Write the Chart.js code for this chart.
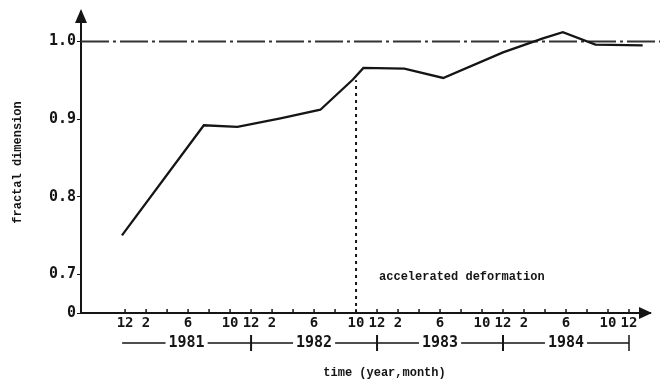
<!DOCTYPE html>
<html>
<head>
<meta charset="utf-8">
<script src="https://cdn.jsdelivr.net/npm/chart.js@4.4.0/dist/chart.umd.min.js"></script>
<style>
  html, body { margin: 0; padding: 0; background: #fff; }
  #wrap { width: 660px; height: 383px; position: relative; }
</style>
</head>
<body>
<div id="wrap"><canvas id="fractalChart"></canvas></div>
<script>
// Time is counted in months from Dec 1980 (0) to Dec 1984 (48)
const months     = [-0.3, 7.5, 10.7, 14.8, 18.6, 21.7, 22.7, 26.6, 30.3, 36.0, 39.8, 41.7, 44.8, 49.3];
const fractalDim = [0.750, 0.892, 0.890, 0.901, 0.912, 0.951, 0.966, 0.965, 0.953, 0.986, 1.004, 1.012, 0.996, 0.995];

// reference level and the start of accelerated deformation (Oct 1982)
const refLevel = 1.0;
const eventMonth = 22;
const eventTop = 0.95;

// axis ticks (the axis is broken: the bottom tick stands for 0)
const yTickValues = [0.65, 0.7, 0.8, 0.9, 1.0];
const yTickLabels = ['0', '0.7', '0.8', '0.9', '1.0'];
const xTickMonths = [0, 2, 4, 6, 8, 10, 12, 14, 16, 18, 20, 22, 24, 26, 28, 30, 32, 34, 36, 38, 40, 42, 44, 46, 48];
const xTickLabels = ['12', '2', '', '6', '', '10', '12', '2', '', '6', '', '10', '12', '2', '', '6', '', '10', '12', '2', '', '6', '', '10', '12'];

// year row under the month ticks
const years      = ['1981', '1982', '1983', '1984'];
const yearStarts = [0, 12, 24, 36];
const yearEnds   = [12, 24, 36, 48];

const xMin = -4.2, xMax = 50;
const yMin = 0.65, yMax = 1.038;

const ink = '#151515';
const tickFont = { family: 'DejaVu Sans Mono', size: 14, weight: 'bold' };
const textFont = "bold 12px 'Liberation Mono'";

// Draws the arrows, inner tick marks, year row and the texts
const decorations = {
  id: 'decorations',
  afterDraw(chart) {
    const { ctx, chartArea: a, scales: { x, y } } = chart;
    ctx.save();
    ctx.fillStyle = ink;
    ctx.strokeStyle = ink;

    // arrow heads
    ctx.beginPath();
    ctx.moveTo(a.left, a.top - 3);
    ctx.lineTo(a.left - 6, a.top + 11);
    ctx.lineTo(a.left + 6, a.top + 11);
    ctx.closePath();
    ctx.fill();
    ctx.beginPath();
    ctx.moveTo(a.right + 2, a.bottom);
    ctx.lineTo(a.right - 11, a.bottom - 6);
    ctx.lineTo(a.right - 11, a.bottom + 6);
    ctx.closePath();
    ctx.fill();

    // month tick marks pointing up into the plot
    ctx.lineWidth = 1.5;
    xTickMonths.forEach(m => {
      const px = x.getPixelForValue(m);
      ctx.beginPath();
      ctx.moveTo(px, a.bottom);
      ctx.lineTo(px, a.bottom - 4);
      ctx.stroke();
    });

    // year row
    const rowY = a.bottom + 30;
    ctx.font = "bold 15px 'DejaVu Sans Mono'";
    ctx.textAlign = 'center';
    ctx.textBaseline = 'middle';
    ctx.lineWidth = 1.5;
    years.forEach((yr, i) => {
      const x0 = x.getPixelForValue(yearStarts[i]) - (i === 0 ? 3 : 0);
      const x1 = x.getPixelForValue(yearEnds[i]);
      const mid = (x0 + x1) / 2;
      const half = ctx.measureText(yr).width / 2 + 3;
      ctx.fillText(yr, mid, rowY);
      ctx.beginPath();
      ctx.moveTo(x0, rowY);
      ctx.lineTo(mid - half, rowY);
      ctx.moveTo(mid + half, rowY);
      ctx.lineTo(x1, rowY);
      ctx.stroke();
      // divider at the end of each year
      ctx.beginPath();
      ctx.lineWidth = i < years.length - 1 ? 2 : 1.5;
      ctx.moveTo(x1, rowY - 8);
      ctx.lineTo(x1, rowY + 8);
      ctx.stroke();
      ctx.lineWidth = 1.5;
    });

    // texts
    ctx.font = textFont;
    ctx.textAlign = 'left';
    ctx.fillText('accelerated deformation', x.getPixelForValue(eventMonth) + 23, y.getPixelForValue(0.7) + 3);
    ctx.textAlign = 'center';
    ctx.fillText('time (year,month)', (a.left + a.right) / 2 + 19, a.bottom + 60);
    ctx.restore();
  }
};

const ctx = document.getElementById('fractalChart').getContext('2d');

new Chart(ctx, {
  type: 'line',
  data: {
    datasets: [
      {
        label: 'fractal dimension',
        data: months.map((m, i) => ({ x: m, y: fractalDim[i] })),
        borderColor: ink,
        borderWidth: 2.3,
        pointRadius: 0,
        tension: 0
      },
      {
        label: 'reference',
        data: [{ x: xMin, y: refLevel }, { x: xMax + 1, y: refLevel }],
        borderColor: '#333',
        borderWidth: 2,
        borderDash: [28, 4, 3, 4],
        pointRadius: 0,
        clip: false
      },
      {
        label: 'onset',
        data: [{ x: eventMonth, y: yMin }, { x: eventMonth, y: eventTop }],
        borderColor: ink,
        borderWidth: 2,
        borderDash: [3, 4],
        pointRadius: 0
      }
    ]
  },
  options: {
    responsive: true,
    maintainAspectRatio: false,
    animation: false,
    layout: { padding: { top: 12, right: 10, left: 0, bottom: 0 } },
    plugins: {
      legend: { display: false },
      tooltip: { enabled: false }
    },
    scales: {
      x: {
        type: 'linear',
        min: xMin,
        max: xMax,
        afterFit: function(scale) { scale.height = 70; },
        afterBuildTicks: function(scale) {
          scale.ticks = xTickMonths.map(v => ({ value: v }));
        },
        ticks: {
          autoSkip: false,
          maxRotation: 0,
          padding: 2,
          color: ink,
          font: tickFont,
          callback: function(value, index) { return xTickLabels[index]; }
        },
        grid: { drawOnChartArea: false, drawTicks: false },
        border: { color: ink, width: 2 }
      },
      y: {
        type: 'linear',
        min: yMin,
        max: yMax,
        afterFit: function(scale) { scale.width = 81; },
        afterBuildTicks: function(scale) {
          scale.ticks = yTickValues.map(v => ({ value: v }));
        },
        ticks: {
          padding: 1,
          color: ink,
          font: { family: 'DejaVu Sans Mono', size: 15, weight: 'bold' },
          callback: function(value, index) { return yTickLabels[index]; }
        },
        grid: { drawOnChartArea: false, drawTicks: true, tickLength: 4, color: ink },
        border: { color: ink, width: 2 },
        title: {
          display: true,
          text: 'fractal dimension',
          color: ink,
          font: { family: 'Liberation Mono', size: 12, weight: 'bold' },
          padding: { top: 11, bottom: 0 }
        }
      }
    }
  },
  plugins: [decorations]
});
</script>
</body>
</html>
